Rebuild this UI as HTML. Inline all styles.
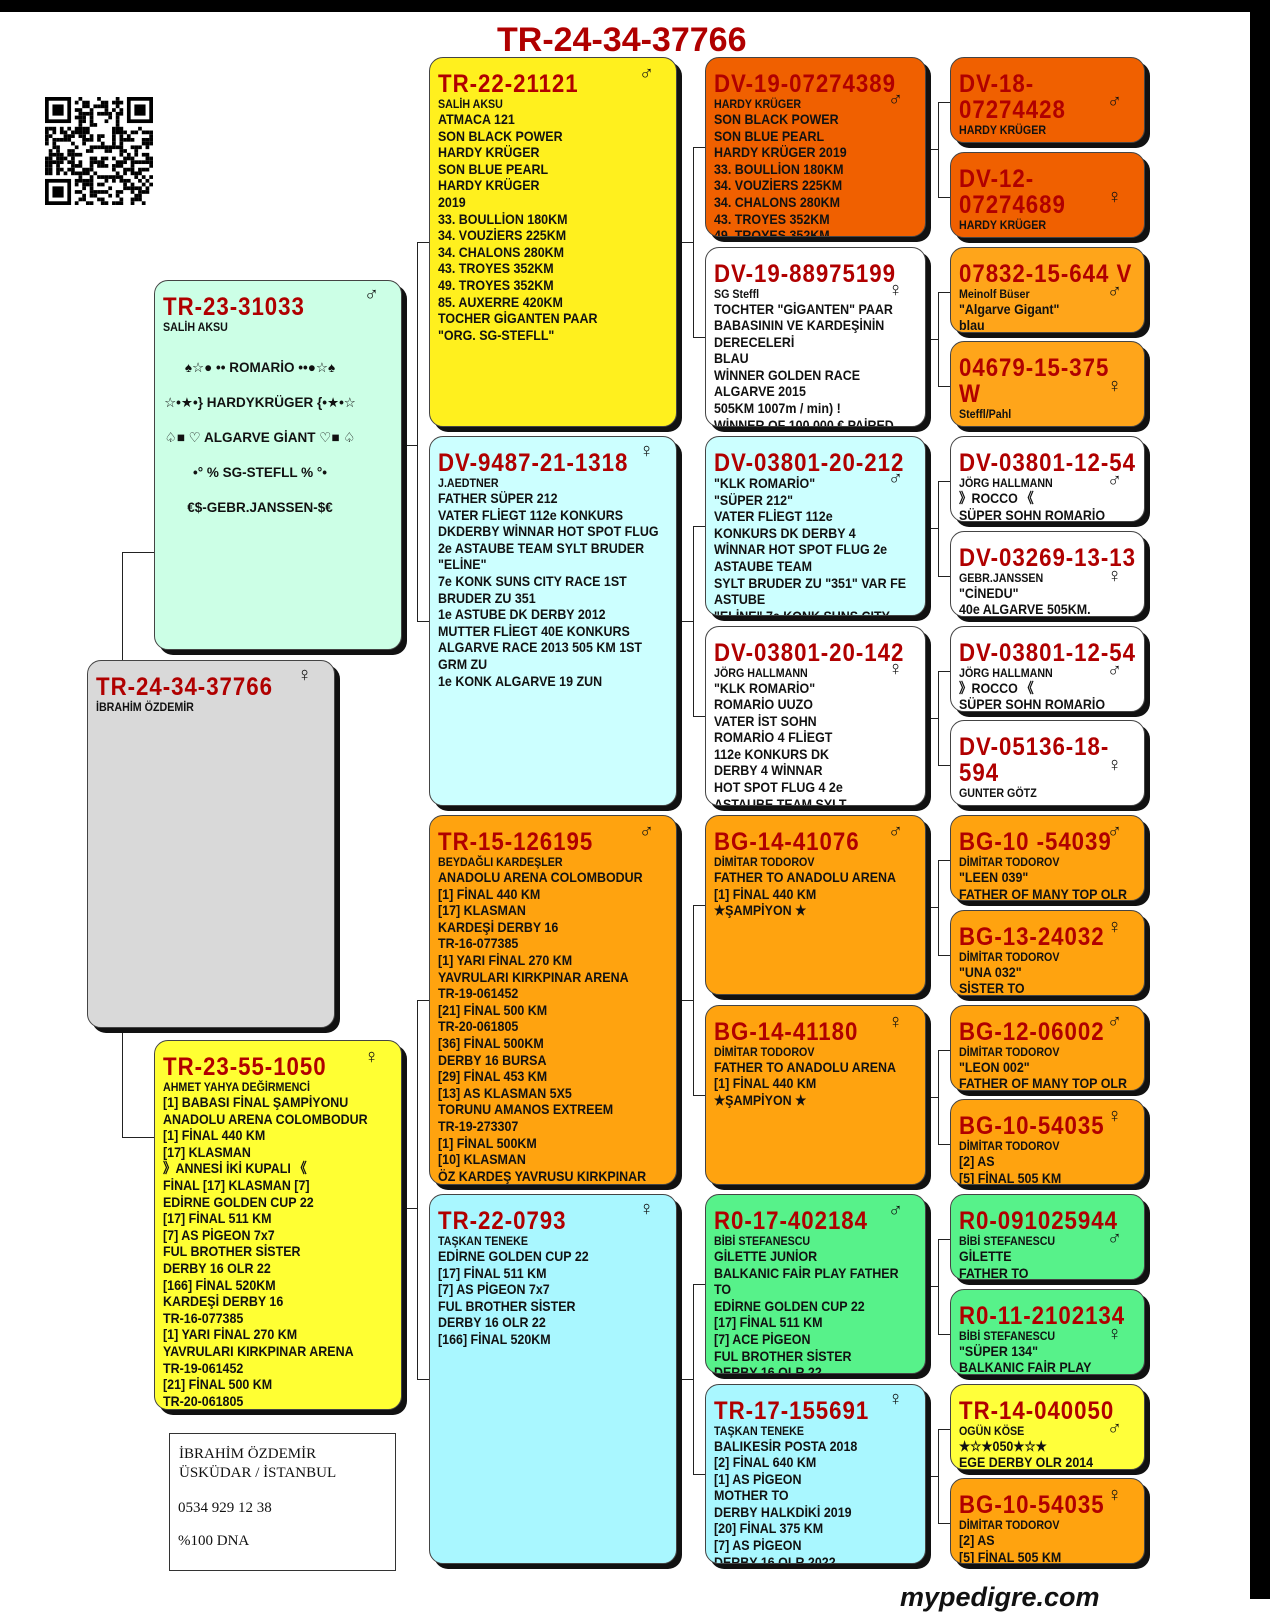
<!DOCTYPE html>
<html><head><meta charset="utf-8">
<style>
*{margin:0;padding:0;box-sizing:border-box}
body{width:1270px;height:1599px;position:relative;background:#fff;overflow:hidden;font-family:"Liberation Sans",sans-serif;color:#111}
.b{position:absolute;border:1.5px solid #444;border-radius:14px;box-shadow:5px 5px 0 #111;overflow:hidden}
.in{position:absolute;left:8px;top:13px;width:118%;transform:scaleX(.89);transform-origin:0 0;white-space:nowrap}
.id{color:#b00000;font-weight:bold;font-size:25px;line-height:26px;letter-spacing:1.1px}
.ow{font-weight:bold;font-size:12px;line-height:14px;margin-top:0}
.bd{font-weight:bold;font-size:14px;line-height:16.6px}
.sx{position:absolute;font-size:20px;line-height:20px;color:#111}
.ln{position:absolute;background:#222}
.h{height:1px}.v{width:1px}
</style></head><body>
<div style="position:absolute;left:0;top:0;width:1270px;height:12px;background:#000"></div>
<div style="position:absolute;left:1250px;top:0;width:20px;height:1599px;background:#000"></div>

<div style="position:absolute;top:18px;left:497px;font:bold 34px/44px 'Liberation Sans',sans-serif;color:#b00000;white-space:nowrap">TR-24-34-37766</div>

<svg id="qr" style="position:absolute;left:45px;top:97px" width="108" height="108" viewBox="0 0 29 29"></svg>

<!-- connectors -->
<div class="ln v" style="left:122px;top:552px;height:108px"></div>
<div class="ln h" style="left:122px;top:552px;width:32px"></div>
<div class="ln v" style="left:122px;top:1028px;height:109px"></div>
<div class="ln h" style="left:122px;top:1137px;width:32px"></div>

<div class="ln v" style="left:417px;top:242px;height:379px"></div>
<div class="ln h" style="left:417px;top:242px;width:12px"></div>
<div class="ln h" style="left:417px;top:621px;width:12px"></div>
<div class="ln h" style="left:402px;top:445px;width:15px"></div>
<div class="ln v" style="left:417px;top:1000px;height:379px"></div>
<div class="ln h" style="left:417px;top:1000px;width:12px"></div>
<div class="ln h" style="left:417px;top:1379px;width:12px"></div>
<div class="ln h" style="left:402px;top:1208px;width:15px"></div>

<div id="conn"></div>

<!-- col1 -->
<div class="b" style="left:87px;top:660px;width:248px;height:368px;background:#d9d9d9">
<div class="in"><div class="id">TR-24-34-37766</div><div class="ow">İBRAHİM ÖZDEMİR</div></div>
<div class="sx" style="right:22px;top:4px">♀</div></div>

<!-- col2 sire -->
<div class="b" style="left:154px;top:280px;width:248px;height:370px;background:#ccffe6">
<div class="in"><div class="id">TR-23-31033</div><div class="ow">SALİH AKSU</div></div>
<div class="sx" style="right:22px;top:4px">♂</div>
<div style="position:absolute;left:0;top:69px;width:210px;text-align:center;font:bold 13.5px/35px 'Liberation Sans','DejaVu Sans',sans-serif;white-space:nowrap">♠☆● •• ROMARİO ••●☆♠<br>☆•★•} HARDYKRÜGER {•★•☆<br>♤■ ♡ ALGARVE GİANT ♡■ ♤<br>•° % SG-STEFLL % °•<br>€$-GEBR.JANSSEN-$€</div></div>

<!-- col2 dam -->
<div class="b" style="left:154px;top:1040px;width:248px;height:370px;background:#ffff33">
<div class="in"><div class="id">TR-23-55-1050</div><div class="ow">AHMET YAHYA DEĞİRMENCİ</div><div class="bd">[1] BABASI FİNAL ŞAMPİYONU<br>ANADOLU ARENA COLOMBODUR<br>[1] FİNAL 440 KM<br>[17] KLASMAN<br>》ANNESİ İKİ KUPALI 《<br>FİNAL  [17] KLASMAN [7]<br>EDİRNE GOLDEN CUP 22<br>[17] FİNAL 511 KM<br>[7] AS PİGEON 7x7<br>FUL BROTHER SİSTER<br>DERBY 16 OLR 22<br>[166] FİNAL 520KM<br>KARDEŞİ DERBY 16<br>TR-16-077385<br>[1] YARI FİNAL 270 KM<br>YAVRULARI KIRKPINAR ARENA<br>TR-19-061452<br>[21] FİNAL 500 KM<br>TR-20-061805<br>[36] FİNAL 500KM</div></div>
<div class="sx" style="right:22px;top:6px">♀</div></div>

<!-- info box -->
<div style="position:absolute;left:169px;top:1433px;width:227px;height:138px;border:1px solid #333;font:15px/19px 'Liberation Serif',serif;padding:11px 0 0 9px;white-space:pre">İBRAHİM ÖZDEMİR
ÜSKÜDAR / İSTANBUL</div>
<div style="position:absolute;left:178px;top:1498px;font:15px/20px 'Liberation Serif',serif;white-space:pre">0534 929 12 38</div>
<div style="position:absolute;left:178px;top:1531px;font:15px/20px 'Liberation Serif',serif;white-space:pre">%100 DNA</div>

<div style="position:absolute;left:900px;top:1582px;font:italic bold 27px/30px 'Liberation Sans',sans-serif;color:#111">mypedigre.com</div>

<div id="boxes"></div>

<script>
const C3=[
['#fff01e','TR-22-21121','SALİH AKSU','ATMACA 121|SON BLACK POWER|HARDY KRÜGER|SON BLUE PEARL|HARDY KRÜGER|2019|33. BOULLİON 180KM|34. VOUZİERS 225KM|34. CHALONS 280KM|43.  TROYES   352KM|49. TROYES    352KM|85. AUXERRE 420KM|TOCHER GİGANTEN PAAR|"ORG. SG-STEFLL"','♂',6],
['#ccffff','DV-9487-21-1318','J.AEDTNER','FATHER SÜPER 212|VATER FLİEGT 112e KONKURS|DKDERBY WİNNAR HOT SPOT FLUG|2e ASTAUBE TEAM SYLT BRUDER|"ELİNE"|7e KONK SUNS CITY RACE 1ST|BRUDER ZU 351|1e ASTUBE DK DERBY 2012|MUTTER FLİEGT 40E KONKURS|ALGARVE RACE 2013 505 KM 1ST|GRM ZU|1e  KONK ALGARVE 19 ZUN','♀',4],
['#ffa30f','TR-15-126195','BEYDAĞLI KARDEŞLER','ANADOLU ARENA COLOMBODUR|[1] FİNAL 440 KM|[17] KLASMAN|KARDEŞİ DERBY 16|TR-16-077385|[1] YARI FİNAL 270 KM|YAVRULARI KIRKPINAR ARENA|TR-19-061452|[21] FİNAL 500 KM|TR-20-061805|[36] FİNAL 500KM|DERBY 16 BURSA|[29] FİNAL 453 KM|[13] AS KLASMAN 5X5|TORUNU AMANOS EXTREEM|TR-19-273307|[1] FİNAL 500KM|[10] KLASMAN|ÖZ KARDEŞ YAVRUSU KIRKPINAR','♂',6],
['#a9f7ff','TR-22-0793','TAŞKAN TENEKE','EDİRNE GOLDEN CUP 22|[17] FİNAL 511 KM|[7] AS PİGEON 7x7|FUL BROTHER SİSTER|DERBY 16 OLR 22|[166] FİNAL 520KM','♀',4]];
const C4=[
['#f06000','DV-19-07274389','HARDY KRÜGER','SON BLACK POWER|SON BLUE PEARL|HARDY KRÜGER 2019|33. BOULLİON 180KM|34. VOUZİERS 225KM|34. CHALONS  280KM|43. TROYES     352KM|49. TROYES     352KM','♂',32],
['#ffffff','DV-19-88975199','SG Steffl','TOCHTER "GİGANTEN" PAAR|BABASININ VE KARDEŞİNİN|DERECELERİ|BLAU|WİNNER GOLDEN RACE|ALGARVE 2015|505KM 1007m / min) !|WİNNER OF 100.000 € PAİRED','♀',32],
['#ccffff','DV-03801-20-212','','"KLK ROMARİO"|"SÜPER 212"|VATER FLİEGT 112e|KONKURS DK DERBY 4|WİNNAR HOT SPOT FLUG 2e|ASTAUBE TEAM|SYLT BRUDER ZU "351" VAR FE|ASTUBE|"ELİNE" 7e KONK SUNS CITY','♂',32],
['#ffffff','DV-03801-20-142','JÖRG HALLMANN','"KLK ROMARİO"|ROMARİO UUZO|VATER İST  SOHN|ROMARİO 4 FLİEGT|112e  KONKURS DK|DERBY 4 WİNNAR|HOT SPOT FLUG 4    2e|ASTAUBE TEAM SYLT','♀',32],
['#ffa30f','BG-14-41076','DİMİTAR TODOROV','FATHER TO ANADOLU ARENA|[1] FİNAL 440 KM| ★ŞAMPİYON ★','♂',6],
['#ffa30f','BG-14-41180','DİMİTAR TODOROV','FATHER TO ANADOLU ARENA|[1] FİNAL 440 KM| ★ŞAMPİYON ★','♀',6],
['#57f28a','R0-17-402184','BİBİ STEFANESCU','GİLETTE JUNİOR|BALKANIC FAİR PLAY FATHER|TO|EDİRNE GOLDEN CUP 22|[17] FİNAL 511 KM|[7] ACE PİGEON|FUL BROTHER SİSTER|DERBY 16 OLR 22','♂',6],
['#a9f7ff','TR-17-155691','TAŞKAN TENEKE','BALIKESİR POSTA 2018|[2] FİNAL 640 KM|[1] AS PİGEON|MOTHER TO|DERBY HALKDİKİ 2019|[20] FİNAL 375 KM|[7] AS PİGEON|DERBY 16 OLR 2022','♀',4]];
const C5=[
['#f06000','DV-18-<br>07274428','HARDY KRÜGER','','♂',34],
['#f06000','DV-12-<br>07274689','HARDY KRÜGER','','♀',34],
['#ffa51a','07832-15-644 V','Meinolf Büser','"Algarve Gigant"|blau','♂',34],
['#ffa51a','04679-15-375<br>W','Steffl/Pahl','','♀',34],
['#ffffff','DV-03801-12-54','JÖRG HALLMANN','》ROCCO 《|SÜPER SOHN ROMARİO','♂',34],
['#ffffff','DV-03269-13-13','GEBR.JANSSEN','"CİNEDU"|40e ALGARVE 505KM.','♀',34],
['#ffffff','DV-03801-12-54','JÖRG HALLMANN','》ROCCO 《|SÜPER SOHN ROMARİO','♂',34],
['#ffffff','DV-05136-18-<br>594','GUNTER GÖTZ','','♀',34],
['#ffa30f','BG-10 -54039','DİMİTAR TODOROV','"LEEN 039"|FATHER OF MANY TOP OLR','♂',6],
['#ffa30f','BG-13-24032','DİMİTAR TODOROV','"UNA 032"|SİSTER TO','♀',6],
['#ffa30f','BG-12-06002','DİMİTAR TODOROV','"LEON 002"|FATHER OF MANY TOP OLR','♂',6],
['#ffa30f','BG-10-54035','DİMİTAR TODOROV','[2] AS|[5] FİNAL 505 KM','♀',6],
['#57f28a','R0-091025944','BİBİ STEFANESCU','GİLETTE|FATHER TO','♂',34],
['#57f28a','R0-11-2102134','BİBİ STEFANESCU','"SÜPER 134"|BALKANIC FAİR PLAY','♀',34],
['#ffff3a','TR-14-040050','OGÜN KÖSE','★☆★050★☆★|EGE DERBY OLR 2014','♂',34],
['#ffa30f','BG-10-54035','DİMİTAR TODOROV','[2] AS|[5] FİNAL 505 KM','♀',6]];
let h='';
function box(x,y,w,ht,d){
 let body=d[3]?'<div class="bd">'+d[3].split('|').join('<br>')+'</div>':'';
 let ow=d[2]?'<div class="ow">'+d[2]+'</div>':'';
 if(!d[2]&&d[3]){body='<div class="bd" style="margin-top:-1px">'+d[3].split('|').join('<br>')+'</div>';}
 h+=`<div class="b" style="left:${x}px;top:${y}px;width:${w}px;height:${ht}px;background:${d[0]}"><div class="in"><div class="id">${d[1]}</div>${ow}${body}</div><div class="sx" style="right:22px;top:${d[5]}px">${d[4]}</div></div>`;
}
C3.forEach((d,k)=>box(429,57+k*379,248,370,d));
C4.forEach((d,k)=>box(705,57+k*189.5,221,180,d));
C5.forEach((d,k)=>box(950,57+k*94.75,195,86,d));
document.getElementById('boxes').innerHTML=h;
let c='';
function ln(x,y,w,hh){c+=`<div class="ln" style="left:${x}px;top:${y}px;width:${w}px;height:${hh}px"></div>`}
for(let k=0;k<4;k++){let a=57+k*379+90,b=a+189.5,m=(a+b)/2;ln(693,a,1,b-a);ln(693,a,12,1);ln(693,b,12,1);ln(677,m,16,1);}
for(let k=0;k<8;k++){let a=57+k*189.5+45,b=a+94.75,m=(a+b)/2;ln(938,a,1,b-a);ln(938,a,12,1);ln(938,b,12,1);ln(926,m,12,1);}
document.getElementById('conn').innerHTML=c;
let s='',seed=12345;function r(){seed=(seed*1103515245+12345)%2147483648;return seed/2147483648;}
function fin(x,y){s+=`<rect x="${x}" y="${y}" width="7" height="7"/><rect x="${x+1}" y="${y+1}" width="5" height="5" fill="#fff"/><rect x="${x+2}" y="${y+2}" width="3" height="3"/>`;}
for(let i=0;i<29;i++)for(let j=0;j<29;j++){
 if((i<8&&j<8)||(i<8&&j>20)||(i>20&&j<8))continue;
 if(r()<0.5)s+=`<rect x="${j}" y="${i}" width="1" height="1"/>`;}
fin(0,0);fin(22,0);fin(0,22);
document.getElementById('qr').innerHTML=s;
</script>
</body></html>
